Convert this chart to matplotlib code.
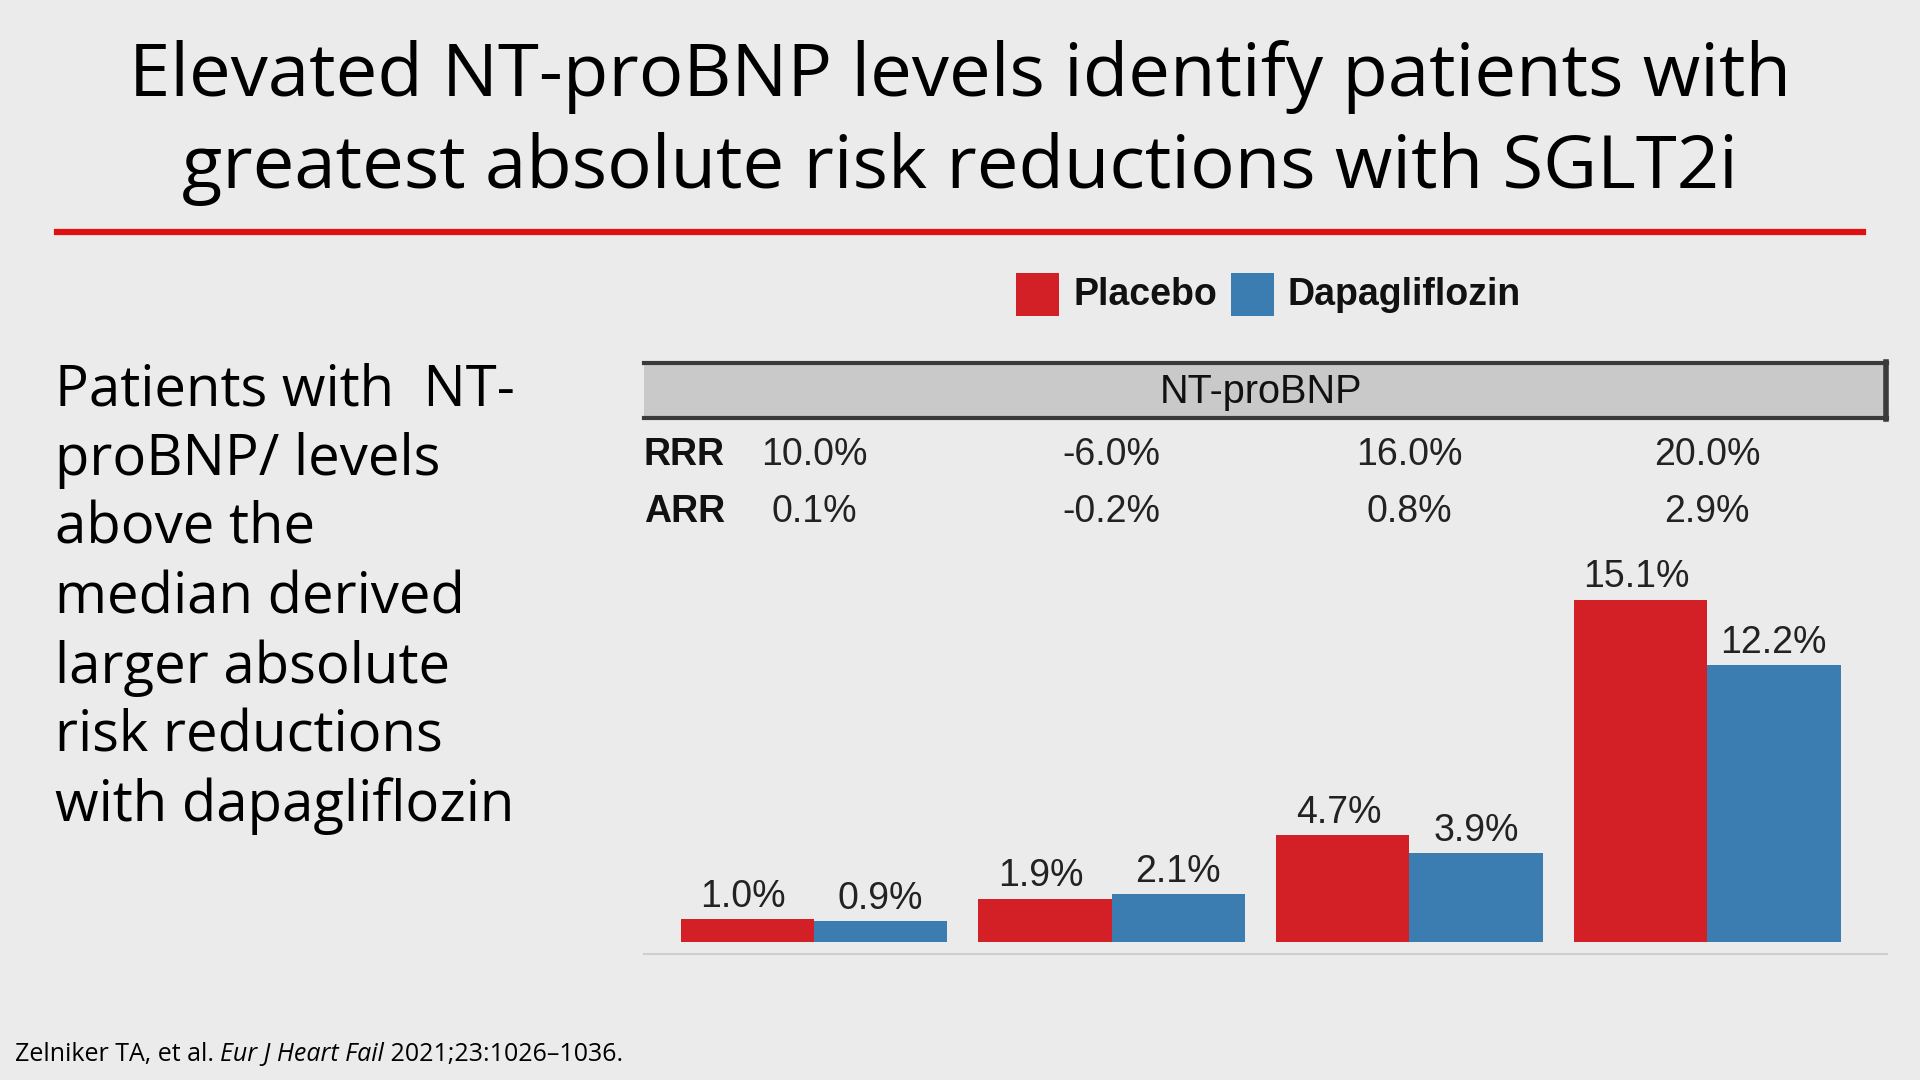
import matplotlib.pyplot as plt
from matplotlib.patches import Rectangle
from matplotlib.lines import Line2D
import matplotlib.transforms as mtransforms
import numpy as np

# data
groups = ["Q1", "Q2", "Q3", "Q4"]
placebo = [1.0, 1.9, 4.7, 15.1]
dapagliflozin = [0.9, 2.1, 3.9, 12.2]
rrr = ["10.0%", "-6.0%", "16.0%", "20.0%"]
arr = ["0.1%", "-0.2%", "0.8%", "2.9%"]

title_lines = ["Elevated NT-proBNP levels identify patients with",
               "greatest absolute risk reductions with SGLT2i"]
side_lines = ["Patients with  NT-", "proBNP/ levels", "above the", "median derived",
              "larger absolute", "risk reductions", "with dapagliflozin"]

bg = "#ebebeb"
c_red = "#d32027"
c_blue = "#3b7cb1"
slide_font = "Open Sans"
chart_font = "Liberation Sans"

W, H = 1920, 1080
fig = plt.figure(figsize=(19.2, 10.8), dpi=100, facecolor=bg)

def fx(px):
	return px / W

def fy(py):
	return 1 - py / H

# title + red rule
fig.text(0.5, fy(77), title_lines[0], ha="center", va="center", fontsize=53.5, family=slide_font, color="black")
fig.text(0.5, fy(169), title_lines[1], ha="center", va="center", fontsize=53.5, family=slide_font, color="black")
fig.add_artist(Line2D([fx(57), fx(1863)], [fy(231.5), fy(231.5)], color="#e01010", lw=4.5))

# left text
for i, line in enumerate(side_lines):
	fig.text(fx(55), fy(391 + i * 69.2), line, ha="left", va="center", fontsize=40.5, family=slide_font)

# bar axes
ax_l, ax_r, ax_t, ax_b = 644, 1887, 362, 954
ax = fig.add_axes([fx(ax_l), fy(ax_b), fx(ax_r - ax_l), (ax_b - ax_t) / H])
ax.set_facecolor(bg)
x = np.arange(len(groups))
width = 0.448
ax.bar(x - width / 2, placebo, width, color=c_red, label="Placebo")
ax.bar(x + width / 2, dapagliflozin, width, color=c_blue, label="Dapagliflozin")
for xi, v in zip(x - width / 2, placebo):
	ax.annotate(f"{v:.1f}%", (xi, v), xytext=(-3, 3), textcoords="offset points",
		ha="center", va="bottom", fontsize=27, family=chart_font, color="#222222")
for xi, v in zip(x + width / 2, dapagliflozin):
	ax.annotate(f"{v:.1f}%", (xi, v), xytext=(0, 3), textcoords="offset points",
		ha="center", va="bottom", fontsize=27, family=chart_font, color="#222222")
ax.set_xlim(-0.571, 3.604)
ax.set_ylim(-0.55, 25.59)
ax.axhline(-0.55, color="#cfcfcf", lw=1.5, clip_on=False)
for s in ax.spines.values():
	s.set_visible(False)
ax.set_xticks([])
ax.set_yticks([])

# header box
box = Rectangle((fx(644), fy(419)), fx(1887 - 644), (419 - 362) / H, transform=fig.transFigure,
	facecolor="#c9c9c9", edgecolor="none")
fig.add_artist(box)
fig.add_artist(Line2D([fx(644), fx(1887)], [fy(363), fy(363)], color="#3a3a3a", lw=3))
fig.add_artist(Line2D([fx(644), fx(1887)], [fy(418), fy(418)], color="#3a3a3a", lw=3))
fig.add_artist(Line2D([fx(1886), fx(1886)], [fy(362), fy(419)], color="#3a3a3a", lw=4))
fig.text(fx(1261), fy(392), "NT-proBNP", ha="center", va="center", fontsize=28.5, family=chart_font, color="#111111")

# RRR / ARR rows
trans = mtransforms.blended_transform_factory(ax.transData, fig.transFigure)
fig.text(fx(644), fy(455), "RRR", ha="left", va="center", fontsize=27, family=chart_font, weight="bold", color="#111111")
fig.text(fx(644), fy(512), "ARR", ha="left", va="center", fontsize=27, family=chart_font, weight="bold", color="#111111")
for xi, r, a in zip(x, rrr, arr):
	ax.text(xi, fy(455), r, transform=trans, ha="center", va="center", fontsize=27, family=chart_font, color="#222222")
	ax.text(xi, fy(512), a, transform=trans, ha="center", va="center", fontsize=27, family=chart_font, color="#222222")

# legend
fig.add_artist(Rectangle((fx(1016), fy(316)), fx(43), 43 / H, transform=fig.transFigure, facecolor=c_red, edgecolor="none"))
fig.text(fx(1074), fy(295), "Placebo", ha="left", va="center", fontsize=27, family=chart_font, weight="bold", color="#111111")
fig.add_artist(Rectangle((fx(1231), fy(316)), fx(43), 43 / H, transform=fig.transFigure, facecolor=c_blue, edgecolor="none"))
fig.text(fx(1287), fy(295), "Dapagliflozin", ha="left", va="center", fontsize=27, family=chart_font, weight="bold", color="#111111")

# citation, with the journal name in italics
renderer = fig.canvas.get_renderer()
pieces = [("Zelniker TA, et al. ", "normal"), ("Eur J Heart Fail", "italic"), (" 2021;23:1026\u20131036.", "normal")]
px = 15
for txt, style in pieces:
	t = fig.text(fx(px), fy(1054), txt, ha="left", va="center", fontsize=18, family=slide_font, style=style)
	px += t.get_window_extent(renderer).width

fig.savefig("out.png", dpi=100, facecolor=bg)
